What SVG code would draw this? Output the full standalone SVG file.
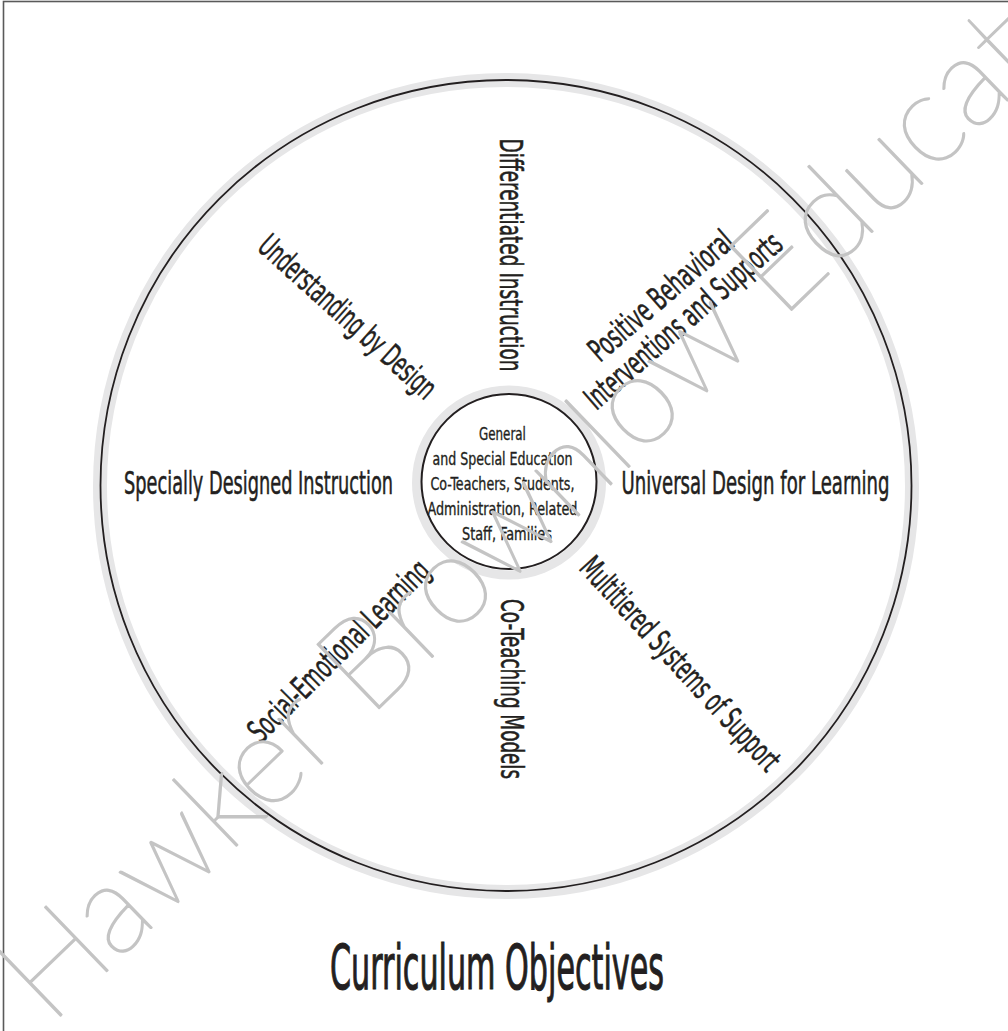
<svg xmlns="http://www.w3.org/2000/svg" width="1008" height="1031" viewBox="0 0 1008 1031">
  <style>
    .lbl { font-family: "Liberation Sans Narrow", "DejaVu Sans Condensed", "Liberation Sans", sans-serif; font-stretch: condensed; font-weight: normal; fill: #231f20; stroke: #231f20; stroke-width: 0.55; }
    .hub { font-size: 18px; text-anchor: middle; stroke-width: 0.35; }
    .spoke { font-size: 32px; }
    .title { font-size: 62px; text-anchor: middle; stroke-width: 1.1; }
    .ring { fill: none; stroke: #e6e6e7; }
    .edge { fill: none; stroke: #231f20; }
    .mark { font-family: "Lato", "Open Sans", "Liberation Sans", sans-serif; font-weight: 200; fill: #c4c4c4; stroke: #c4c4c4; stroke-width: 1.8; stroke-linejoin: round; }
  </style>

  <rect width="1008" height="1031" fill="#ffffff"/>
  <!-- page frame -->
  <rect x="3.5" y="1.5" width="1100" height="1100" fill="none" stroke="#5a5a5a" stroke-width="1.6"/>

  <!-- outer curriculum circle -->
  <g id="outer-circle">
    <circle class="ring" cx="506" cy="486" r="406" stroke-width="14"/>
    <circle class="edge" cx="506" cy="485.5" r="405.5" stroke-width="1.8"/>
  </g>

  <!-- hub circle -->
  <g id="hub">
    <circle class="ring" cx="509" cy="482.5" r="92.5" stroke-width="9"/>
    <circle class="edge" cx="509" cy="481.5" r="87.5" stroke-width="2"/>
    <text class="lbl hub">
      <tspan x="505" y="440" textLength="47" lengthAdjust="spacingAndGlyphs">General</tspan>
      <tspan x="505" y="465" textLength="140" lengthAdjust="spacingAndGlyphs">and Special Education</tspan>
      <tspan x="505" y="490" textLength="144" lengthAdjust="spacingAndGlyphs">Co-Teachers, Students,</tspan>
      <tspan x="505" y="515" textLength="150" lengthAdjust="spacingAndGlyphs">Administration, Related</tspan>
      <tspan x="507" y="540" textLength="90" lengthAdjust="spacingAndGlyphs">Staff, Families</tspan>
    </text>
  </g>

  <!-- spokes: approaches placed around the hub -->
  <g id="differentiated-instruction">
    <text class="lbl spoke" transform="translate(499.5,138.5) rotate(90)" textLength="233" lengthAdjust="spacingAndGlyphs">Differentiated Instruction</text>
  </g>
  <g id="pbis">
    <text class="lbl spoke" text-anchor="middle" transform="translate(668,304) rotate(-41)" textLength="180" lengthAdjust="spacingAndGlyphs">Positive Behavioral</text>
    <text class="lbl spoke" text-anchor="middle" transform="translate(690.5,329) rotate(-41)" textLength="250" lengthAdjust="spacingAndGlyphs">Interventions and Supports</text>
  </g>
  <g id="universal-design">
    <text class="lbl spoke" x="621.5" y="493.5" textLength="268" lengthAdjust="spacingAndGlyphs">Universal Design for Learning</text>
  </g>
  <g id="multitiered-systems">
    <text class="lbl spoke" transform="translate(578,569) rotate(47.3)" textLength="278" lengthAdjust="spacingAndGlyphs">Multitiered Systems of Support</text>
  </g>
  <g id="co-teaching-models">
    <text class="lbl spoke" transform="translate(500.5,599) rotate(90)" textLength="180" lengthAdjust="spacingAndGlyphs">Co-Teaching Models</text>
  </g>
  <g id="social-emotional">
    <text class="lbl spoke" transform="translate(261,744) rotate(-45)" textLength="242" lengthAdjust="spacingAndGlyphs">Social-Emotional Learning</text>
  </g>
  <g id="specially-designed">
    <text class="lbl spoke" x="124" y="493.5" textLength="269" lengthAdjust="spacingAndGlyphs">Specially Designed Instruction</text>
  </g>
  <g id="understanding-by-design">
    <text class="lbl spoke" transform="translate(256,249) rotate(42)" textLength="227" lengthAdjust="spacingAndGlyphs">Understanding by Design</text>
  </g>

  <!-- caption -->
  <g id="caption">
    <text class="lbl title" x="497" y="989" textLength="334" lengthAdjust="spacingAndGlyphs">Curriculum Objectives</text>
  </g>

  <!-- publisher mark -->
  <text class="mark" transform="translate(50,1026) rotate(-44)" font-size="127">Hawker Brownlow Education</text>
</svg>
